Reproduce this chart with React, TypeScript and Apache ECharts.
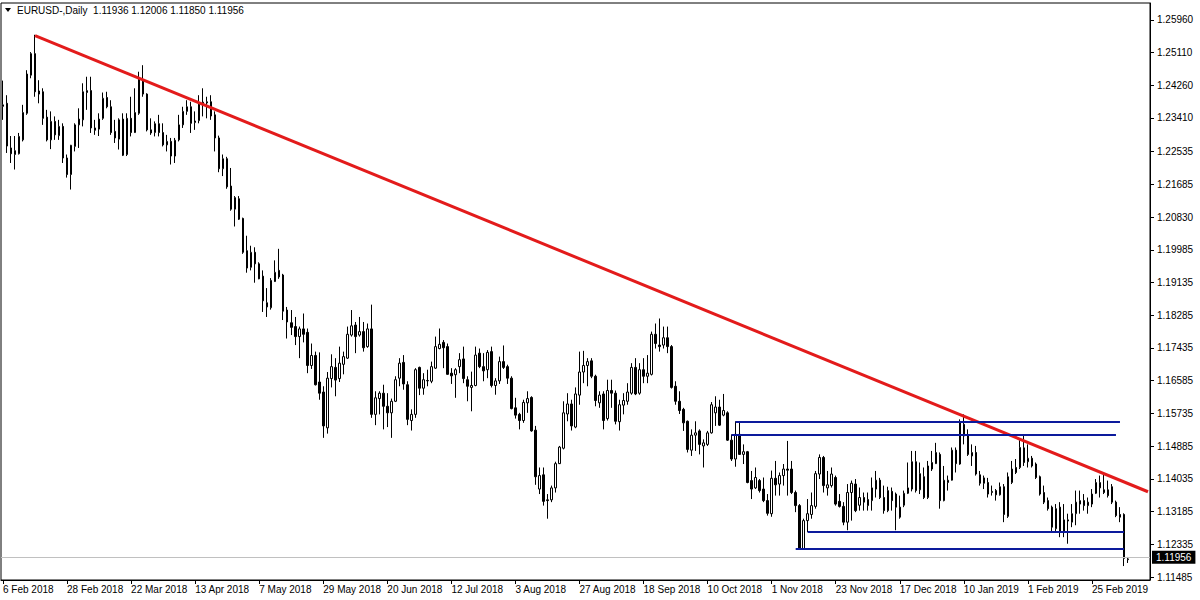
import React, { useEffect, useRef } from 'react';
import * as echarts from 'echarts';

// ---- Data (EURUSD daily) ----
const opens = [
  1.2371,1.2379,1.2263,1.2246,1.2248,1.2284,1.2353,1.2452,1.2508,1.2403,
  1.2409,1.2343,1.2284,1.2332,1.2295,1.2319,1.2237,1.2194,1.2267,1.2323,
  1.2336,1.2407,1.2412,1.2315,1.2312,1.2340,1.2394,1.2370,1.2306,1.2286,
  1.2338,1.2246,1.2340,1.2303,1.2353,1.2439,1.2403,1.2310,1.2303,1.2326,
  1.2303,1.2271,1.2280,1.2242,1.2284,1.2323,1.2358,1.2370,1.2329,1.2334,
  1.2375,1.2380,1.2383,1.2349,1.2289,1.2209,1.2235,1.2164,1.2104,1.2131,
  1.2080,1.1996,1.1953,1.1992,1.1962,1.1930,1.1850,1.1848,1.1916,1.1945,
  1.1933,1.1842,1.1809,1.1799,1.1773,1.1793,1.1784,1.1698,1.1724,1.1655,
  1.1629,1.1536,1.1664,1.1693,1.1664,1.1701,1.1717,1.1777,1.1803,1.1777,
  1.1786,1.1747,1.1793,1.1571,1.1612,1.1626,1.1592,1.1575,1.1605,1.1665,
  1.1706,1.1648,1.1555,1.1571,1.1693,1.1639,1.1659,1.1657,1.1691,1.1742,
  1.1758,1.1747,1.1678,1.1674,1.1695,1.1715,1.1661,1.1641,1.1646,1.1730,
  1.1695,1.1687,1.1734,1.1646,1.1658,1.1708,1.1695,1.1665,1.1588,1.1571,
  1.1555,1.1601,1.1615,1.1530,1.1377,1.1414,1.1349,1.1349,1.1380,1.1443,
  1.1483,1.1572,1.1598,1.1538,1.1621,1.1681,1.1698,1.1710,1.1670,1.1601,
  1.1624,1.1560,1.1633,1.1626,1.1552,1.1595,1.1605,1.1626,1.1693,1.1626,
  1.1687,1.1670,1.1675,1.1779,1.1751,1.1751,1.1770,1.1747,1.1644,1.1605,
  1.1584,1.1553,1.1478,1.1517,1.1528,1.1489,1.1493,1.1523,1.1575,1.1590,
  1.1569,1.1575,1.1504,1.1455,1.1519,1.1467,1.1474,1.1399,1.1380,1.1399,
  1.1377,1.1347,1.1313,1.1405,1.1390,1.1412,1.1429,1.1429,1.1368,1.1334,
  1.1222,1.1295,1.1311,1.1332,1.1416,1.1459,1.1380,1.1386,1.1407,1.1345,
  1.1332,1.1291,1.1368,1.1390,1.1335,1.1355,1.1334,1.1347,1.1377,1.1400,
  1.1355,1.1321,1.1371,1.1364,1.1330,1.1335,1.1366,1.1377,1.1448,1.1375,
  1.1409,1.1355,1.1429,1.1443,1.1467,1.1347,1.1394,1.1400,1.1478,1.1442,
  1.1545,1.1515,1.1463,1.1472,1.1414,1.1392,1.1394,1.1368,1.1373,1.1362,
  1.1383,1.1306,1.1394,1.1433,1.1433,1.1484,1.1448,1.1457,1.1442,1.1409,
  1.1368,1.1347,1.1330,1.1274,1.1330,1.1265,1.1294,1.1291,1.1313,1.1338,
  1.1347,1.1334,1.1338,1.1366,1.1380,1.1375,1.1375,1.1383,1.1343,1.1311,
  1.1311,1.11936,
];
const highs = [
  1.2438,1.2400,1.2294,1.2294,1.2302,1.2375,1.2465,1.2512,1.2557,1.2439,
  1.2418,1.2362,1.2358,1.2345,1.2336,1.2327,1.2246,1.2271,1.2327,1.2366,
  1.2431,1.2448,1.2448,1.2336,1.2353,1.2407,1.2409,1.2387,1.2336,1.2340,
  1.2353,1.2353,1.2396,1.2418,1.2461,1.2478,1.2405,1.2340,1.2332,1.2349,
  1.2327,1.2297,1.2289,1.2289,1.2349,1.2370,1.2387,1.2383,1.2358,1.2400,
  1.2418,1.2396,1.2400,1.2358,1.2295,1.2246,1.2240,1.2211,1.2138,1.2138,
  1.2082,1.2035,1.2009,1.2005,1.1966,1.1945,1.1899,1.1925,1.1971,1.2001,
  1.1936,1.1850,1.1842,1.1824,1.1799,1.1833,1.1794,1.1755,1.1734,1.1732,
  1.1644,1.1681,1.1727,1.1717,1.1747,1.1734,1.1799,1.1842,1.1811,1.1824,
  1.1811,1.1807,1.1856,1.1631,1.1631,1.1648,1.1626,1.1612,1.1670,1.1717,
  1.1725,1.1657,1.1584,1.1691,1.1695,1.1678,1.1687,1.1708,1.1773,1.1794,
  1.1764,1.1755,1.1691,1.1691,1.1730,1.1747,1.1670,1.1682,1.1747,1.1742,
  1.1730,1.1738,1.1747,1.1665,1.1721,1.1750,1.1700,1.1670,1.1614,1.1575,
  1.1609,1.1631,1.1618,1.1541,1.1433,1.1433,1.1364,1.1386,1.1448,1.1489,
  1.1605,1.1626,1.1609,1.1641,1.1734,1.1736,1.1717,1.1717,1.1674,1.1631,
  1.1631,1.1661,1.1661,1.1633,1.1609,1.1626,1.1652,1.1704,1.1717,1.1704,
  1.1717,1.1725,1.1786,1.1807,1.1820,1.1799,1.1799,1.1751,1.1657,1.1631,
  1.1588,1.1555,1.1532,1.1553,1.1532,1.1506,1.1528,1.1603,1.1618,1.1609,
  1.1624,1.1579,1.1519,1.1553,1.1553,1.1493,1.1476,1.1424,1.1433,1.1403,
  1.1407,1.1364,1.1425,1.1450,1.1420,1.1442,1.1502,1.1450,1.1373,1.1338,
  1.1300,1.1351,1.1368,1.1424,1.1467,1.1463,1.1424,1.1433,1.1412,1.1364,
  1.1343,1.1390,1.1399,1.1403,1.1381,1.1368,1.1368,1.1407,1.1424,1.1406,
  1.1386,1.1383,1.1381,1.1368,1.1360,1.1373,1.1446,1.1476,1.1476,1.1446,
  1.1433,1.1450,1.1476,1.1497,1.1472,1.1437,1.1412,1.1485,1.1485,1.1558,
  1.1571,1.1532,1.1493,1.1489,1.1424,1.1412,1.1406,1.1386,1.1377,1.1394,
  1.1390,1.1420,1.1450,1.1455,1.1504,1.1516,1.1493,1.1463,1.1446,1.1412,
  1.1386,1.1355,1.1334,1.1338,1.1343,1.1338,1.1313,1.1338,1.1373,1.1373,
  1.1364,1.1355,1.1377,1.1403,1.1412,1.1416,1.1399,1.1390,1.1347,1.1330,
  1.1314,1.12006,
];
const lows = [
  1.2336,1.2250,1.2224,1.2207,1.2246,1.2280,1.2349,1.2444,1.2396,1.2379,
  1.2323,1.2280,1.2260,1.2284,1.2284,1.2224,1.2186,1.2155,1.2254,1.2263,
  1.2319,1.2362,1.2302,1.2297,1.2294,1.2336,1.2366,1.2297,1.2276,1.2259,
  1.2242,1.2242,1.2293,1.2302,1.2349,1.2396,1.2306,1.2297,1.2293,1.2293,
  1.2267,1.2254,1.2220,1.2224,1.2280,1.2315,1.2349,1.2302,1.2310,1.2327,
  1.2345,1.2340,1.2336,1.2254,1.2200,1.2190,1.2157,1.2100,1.2059,1.2076,
  1.1988,1.1939,1.1945,1.1913,1.1922,1.1837,1.1824,1.1843,1.1915,1.1923,
  1.1816,1.1768,1.1777,1.1751,1.1717,1.1758,1.1678,1.1689,1.1646,1.1609,
  1.1510,1.1521,1.1641,1.1618,1.1655,1.1675,1.1715,1.1773,1.1730,1.1773,
  1.1734,1.1744,1.1562,1.1543,1.1571,1.1532,1.1538,1.1510,1.1603,1.1644,
  1.1635,1.1543,1.1529,1.1562,1.1621,1.1622,1.1644,1.1652,1.1689,1.1740,
  1.1691,1.1674,1.1650,1.1614,1.1678,1.1652,1.1605,1.1579,1.1644,1.1691,
  1.1657,1.1665,1.1641,1.1622,1.1650,1.1689,1.1650,1.1584,1.1560,1.1532,
  1.1549,1.1575,1.1526,1.1388,1.1364,1.1334,1.1300,1.1343,1.1368,1.1442,
  1.1480,1.1553,1.1529,1.1535,1.1596,1.1652,1.1644,1.1665,1.1592,1.1588,
  1.1532,1.1555,1.1588,1.1545,1.1529,1.1571,1.1596,1.1622,1.1621,1.1622,
  1.1652,1.1652,1.1672,1.1742,1.1734,1.1742,1.1730,1.1638,1.1596,1.1572,
  1.1528,1.1472,1.1463,1.1476,1.1467,1.1433,1.1489,1.1521,1.1541,1.1541,
  1.1566,1.1502,1.1450,1.1435,1.1466,1.1442,1.1392,1.1351,1.1377,1.1368,
  1.1343,1.1308,1.1305,1.1360,1.1360,1.1386,1.1360,1.1364,1.1317,1.1220,
  1.1220,1.1265,1.1300,1.1326,1.1403,1.1368,1.1360,1.1381,1.1334,1.1329,
  1.1283,1.1270,1.1295,1.1317,1.1321,1.1321,1.1321,1.1321,1.1355,1.1351,
  1.1313,1.1317,1.1321,1.1270,1.1300,1.1330,1.1364,1.1371,1.1368,1.1364,
  1.1351,1.1351,1.1424,1.1442,1.1326,1.1345,1.1373,1.1399,1.1420,1.1440,
  1.1493,1.1463,1.1437,1.1412,1.1386,1.1377,1.1355,1.1360,1.1347,1.1360,
  1.1291,1.1302,1.1390,1.1416,1.1429,1.1437,1.1433,1.1433,1.1403,1.1360,
  1.1338,1.1321,1.1265,1.1263,1.1252,1.1252,1.1235,1.1278,1.1283,1.1313,
  1.1321,1.1313,1.1330,1.1364,1.1355,1.1364,1.1355,1.1338,1.1304,1.1291,
  1.1177,1.11850,
];
const closes = [
  1.2375,1.2268,1.2248,1.2256,1.2293,1.2355,1.2455,1.2508,1.2409,1.2411,
  1.2340,1.2284,1.2332,1.2297,1.2319,1.2237,1.2194,1.2270,1.2323,1.2338,
  1.2409,1.2412,1.2315,1.2309,1.2338,1.2392,1.2370,1.2303,1.2289,1.2336,
  1.2244,1.2340,1.2303,1.2355,1.2446,1.2403,1.2310,1.2302,1.2326,1.2303,
  1.2271,1.2280,1.2242,1.2283,1.2323,1.2358,1.2370,1.2327,1.2333,1.2379,
  1.2382,1.2383,1.2346,1.2289,1.2209,1.2235,1.2162,1.2104,1.2134,1.2078,
  1.1992,1.1951,1.1992,1.1962,1.1923,1.1866,1.1861,1.1919,1.1940,1.1928,
  1.1839,1.1811,1.1797,1.1773,1.1793,1.1779,1.1698,1.1724,1.1648,1.1626,
  1.1541,1.1665,1.1695,1.1660,1.1704,1.1721,1.1779,1.1801,1.1773,1.1786,
  1.1744,1.1793,1.1571,1.1614,1.1626,1.1592,1.1575,1.1605,1.1661,1.1704,
  1.1650,1.1558,1.1571,1.1687,1.1639,1.1661,1.1658,1.1695,1.1747,1.1753,
  1.1744,1.1675,1.1671,1.1687,1.1713,1.1664,1.1644,1.1646,1.1725,1.1695,
  1.1684,1.1732,1.1646,1.1658,1.1708,1.1693,1.1665,1.1586,1.1569,1.1555,
  1.1602,1.1612,1.1528,1.1409,1.1412,1.1345,1.1347,1.1380,1.1443,1.1486,
  1.1575,1.1598,1.1541,1.1624,1.1681,1.1698,1.1708,1.1670,1.1607,1.1621,
  1.1555,1.1633,1.1626,1.1553,1.1596,1.1607,1.1629,1.1693,1.1624,1.1687,
  1.1670,1.1678,1.1779,1.1755,1.1747,1.1770,1.1747,1.1641,1.1605,1.1581,
  1.1549,1.1480,1.1517,1.1523,1.1493,1.1497,1.1523,1.1596,1.1590,1.1543,
  1.1581,1.1504,1.1455,1.1519,1.1467,1.1474,1.1394,1.1377,1.1407,1.1373,
  1.1347,1.1314,1.1405,1.1388,1.1412,1.1429,1.1426,1.1368,1.1334,1.1222,
  1.1295,1.1313,1.1334,1.1417,1.1459,1.1386,1.1388,1.1416,1.1338,1.1332,
  1.1291,1.1368,1.1392,1.1321,1.1355,1.1343,1.1350,1.1380,1.1400,1.1355,
  1.1321,1.1373,1.1347,1.1330,1.1304,1.1366,1.1380,1.1448,1.1373,1.1417,
  1.1355,1.1437,1.1446,1.1472,1.1347,1.1400,1.1400,1.1478,1.1443,1.1549,
  1.1515,1.1467,1.1472,1.1416,1.1392,1.1406,1.1364,1.1371,1.1362,1.1383,
  1.1311,1.1409,1.1429,1.1420,1.1485,1.1446,1.1457,1.1437,1.1407,1.1364,
  1.1343,1.1326,1.1278,1.1326,1.1265,1.1297,1.1297,1.1313,1.1343,1.1347,
  1.1334,1.1343,1.1364,1.1394,1.1394,1.1368,1.1360,1.1343,1.1308,1.1304,
  1.1197,1.11956,
];

const priceTicks = [
  1.11485, 1.12335, 1.13185, 1.14035, 1.14885, 1.15735, 1.16585, 1.17435, 1.18285,
  1.19135, 1.19985, 1.20830, 1.21685, 1.22535, 1.23410, 1.24260, 1.25110, 1.25960,
];
const symbolTitle = 'EURUSD-,Daily';
const lastBar = { open: 1.11936, high: 1.12006, low: 1.11850, close: 1.11956 };
const lastPrice = 1.11956;
const firstDay = [2018, 1, 6];
const holidays = ['2018-12-25', '2019-01-01'];
const emptySlots = 5;
const labelEvery = 16;

// trend line [barIndex, price]
const trendLine = [[8, 1.2555], [286, 1.1370]];
// horizontal levels: [fromBar, toBar, price]
const levels = [
  [183, 279, 1.1553],
  [182, 278, 1.1518],
  [201, 280, 1.1265],
  [198, 280, 1.1221],
];

const MONTHS = ['Jan','Feb','Mar','Apr','May','Jun','Jul','Aug','Sep','Oct','Nov','Dec'];
function buildDates(n: number): string[] {
  const out: string[] = [];
  const d = new Date(Date.UTC(firstDay[0], firstDay[1], firstDay[2]));
  while (out.length < n) {
    const wd = d.getUTCDay();
    const iso = d.toISOString().slice(0, 10);
    if (wd !== 0 && wd !== 6 && holidays.indexOf(iso) < 0) {
      out.push(`${d.getUTCDate()} ${MONTHS[d.getUTCMonth()]} ${d.getUTCFullYear()}`);
    }
    d.setUTCDate(d.getUTCDate() + 1);
  }
  return out;
}

const FONT = '"Liberation Sans", Arial, sans-serif';

export default function App() {
  const ref = useRef<HTMLDivElement>(null);
  useEffect(() => {
    if (!ref.current) return;
    const chart = echarts.init(ref.current, null, { renderer: 'svg' });
    const n = closes.length;
    const dates = buildDates(n);
    const categories = dates.concat(new Array(emptySlots).fill(''));
    const candles = closes.map((c, i) => [opens[i], c, lows[i], highs[i]]);
    const showIdx = (i: number) => i % labelEvery === 0 && i < n;

    const lineColor = '#e31b1b';
    const levelColor = '#0c1a9c';

    const markData: any[] = [
      [
        { coord: trendLine[0], lineStyle: { color: lineColor, width: 3, type: 'solid' } },
        { coord: trendLine[1] },
      ],
      ...levels.map((l) => [
        { coord: [l[0], l[2]], lineStyle: { color: levelColor, width: 2, type: 'solid' } },
        { coord: [l[1], l[2]] },
      ]),
    ];

    chart.setOption({
      animation: false,
      backgroundColor: '#ffffff',
      textStyle: { fontFamily: FONT },
      grid: { left: 1, right: 50, top: 3, bottom: 20, show: true, borderColor: '#000', borderWidth: 1 },
      xAxis: {
        type: 'category',
        data: categories,
        boundaryGap: true,
        axisLine: { lineStyle: { color: '#000', width: 1 } },
        axisTick: { show: true, alignWithLabel: true, interval: (i: number) => showIdx(i), length: 4, lineStyle: { color: '#000' } },
        axisLabel: {
          interval: (i: number) => showIdx(i),
          align: 'left',
          color: '#000',
          fontSize: 10,
          fontFamily: FONT,
          margin: 4,
        },
        splitLine: { show: false },
      },
      yAxis: {
        type: 'value',
        position: 'right',
        min: 1.114076,
        max: 1.263954,
        scale: true,
        axisLine: { show: true, lineStyle: { color: '#000', width: 1 } },
        axisTick: { show: true, customValues: priceTicks, length: 4, lineStyle: { color: '#000' } },
        axisLabel: {
          customValues: priceTicks,
          formatter: (v: number) => v.toFixed(5),
          color: '#000',
          fontSize: 10,
          fontFamily: FONT,
          margin: 7,
        },
        splitLine: { show: false },
      },
      series: [
        {
          type: 'candlestick',
          data: candles,
          barWidth: 2,
          itemStyle: {
            color: '#ffffff',
            color0: '#000000',
            borderColor: '#000000',
            borderColor0: '#000000',
            borderWidth: 1,
          },
          markLine: {
            silent: true,
            symbol: ['none', 'none'],
            label: { show: false },
            data: [
              {
                yAxis: lastPrice,
                lineStyle: { color: '#c0c0c0', width: 1, type: 'solid' },
                label: {
                  show: true,
                  position: 'end',
                  formatter: lastPrice.toFixed(5),
                  backgroundColor: '#000',
                  color: '#fff',
                  fontSize: 10,
                  fontFamily: FONT,
                  padding: [2, 4, 1, 4],
                  distance: 2,
                },
              },
              ...markData,
            ],
          },
        },
      ],
      graphic: [
        { type: 'polygon', shape: { points: [[5, 8], [11, 8], [8, 12]] }, style: { fill: '#000' } },
        {
          type: 'text',
          x: 17,
          y: 5,
          style: {
            text: `${symbolTitle}  ${lastBar.open.toFixed(5)} ${lastBar.high.toFixed(5)} ${lastBar.low.toFixed(5)} ${lastBar.close.toFixed(5)}`,
            fill: '#000',
            fontSize: 10,
            fontFamily: FONT,
          },
        },
      ],
    });
    return () => chart.dispose();
  }, []);
  return <div ref={ref} style={{ position: 'absolute', left: 0, top: 0, width: 1200, height: 600 }} />;
}
